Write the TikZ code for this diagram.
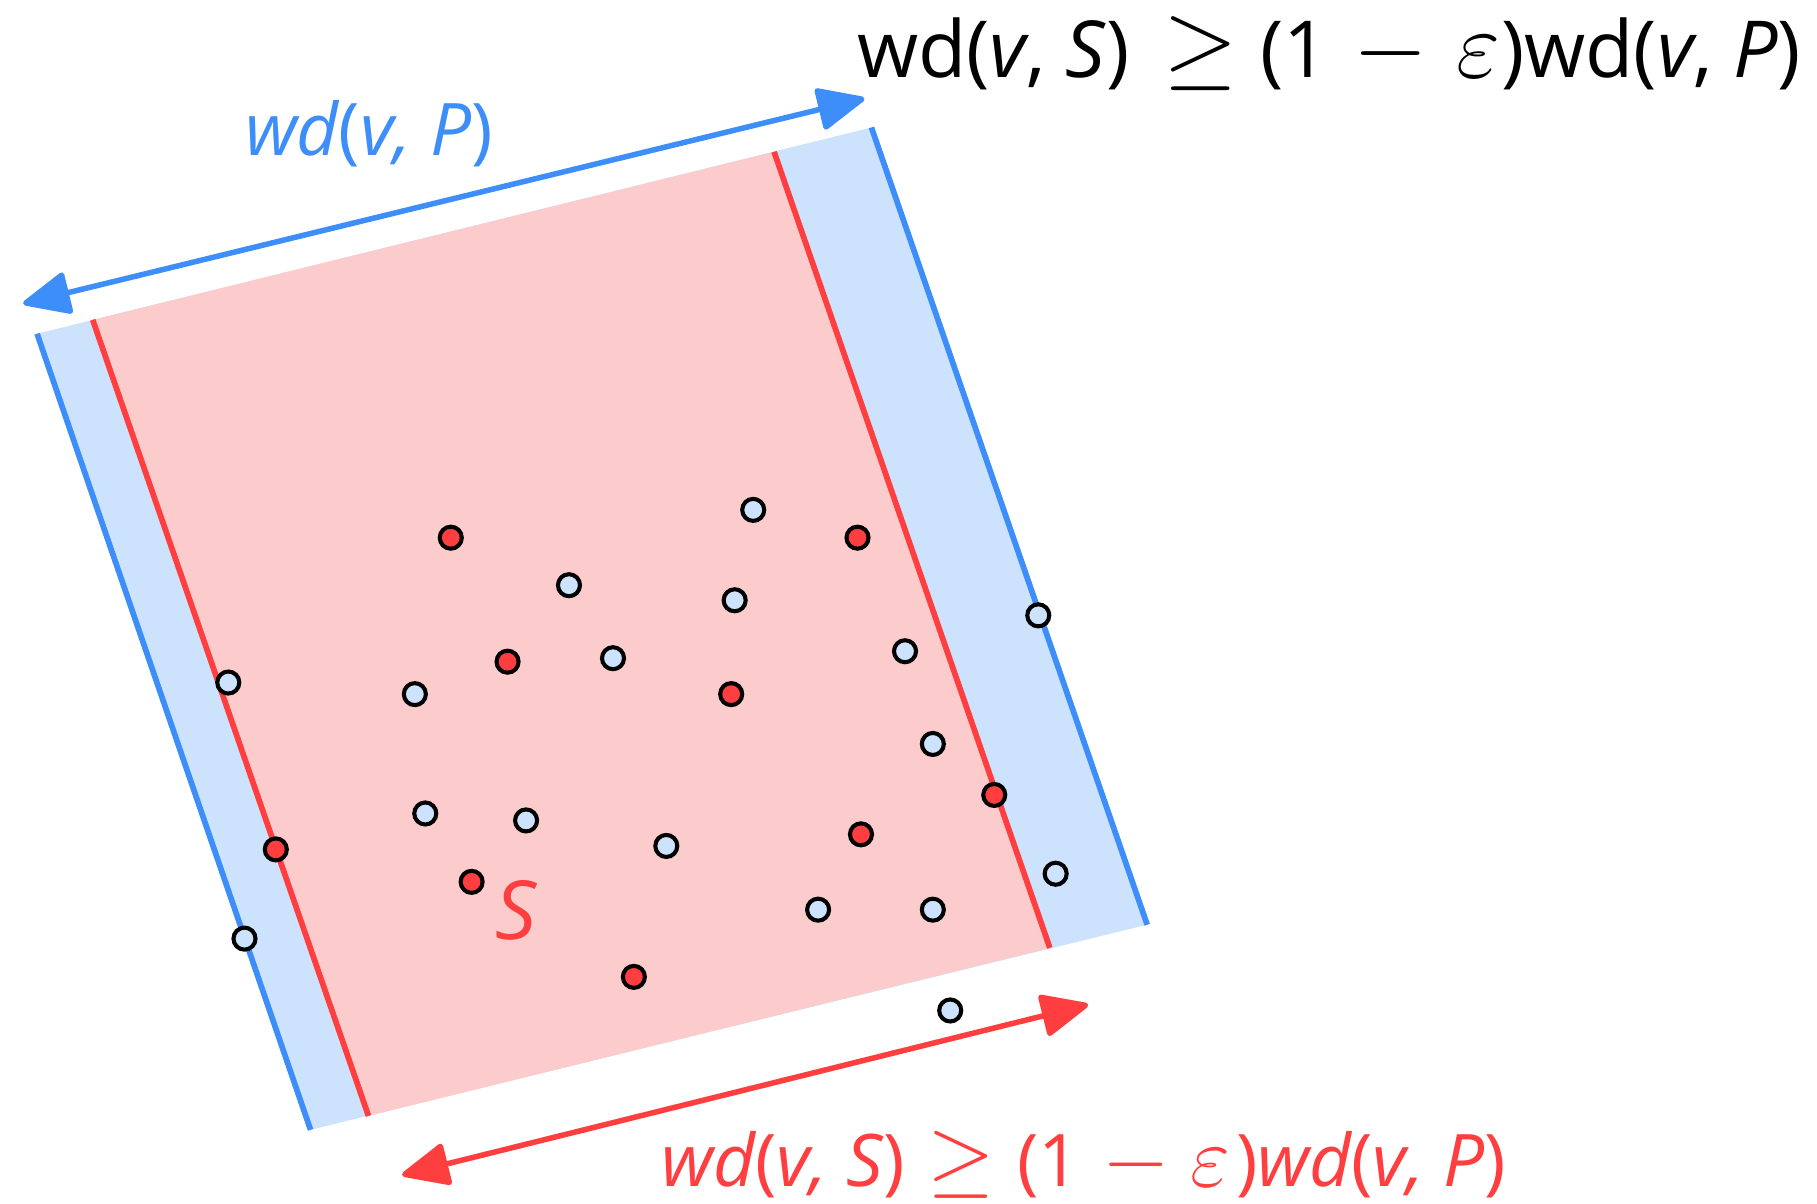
\RequirePackage{fix-cm}
\documentclass[tikz,border=0pt]{standalone}
\usepackage{graphicx}
\usepackage{fontspec}
\setmainfont{Open Sans}
\usetikzlibrary{arrows.meta}
\definecolor{pblue}{RGB}{61,142,248}
\definecolor{pbluefill}{RGB}{204,226,253}
\definecolor{sred}{RGB}{255,62,64}
\definecolor{sredfill}{RGB}{252,204,205}
\newcommand\symsz[2]{{\fontsize{#1}{#1}\selectfont$#2$}}
\newcommand\up[1]{{\upshape #1}}
\newcommand\cbox[1]{\makebox[0pt][c]{#1}}
\newcommand\lbox[1]{\makebox[0pt][l]{#1}}
\tikzset{
  edgeline/.style={line width=1.4pt},
  dotbase/.style={circle, draw=black, line width=1pt, minimum size=0.19cm, inner sep=0pt},
  rdot/.style={dotbase, fill=sred},
  bdot/.style={dotbase, fill=pbluefill},
  dimarrow/.style={line width=1.35pt, {Triangle[length=0.44cm,width=0.38cm,round]}-{Triangle[length=0.44cm,width=0.38cm,round]}},
}
\begin{document}
\begin{tikzpicture}[x=0.01cm,y=-0.01cm]
\useasboundingbox (0,0) rectangle (1568,1039);
% strip corners
\coordinate (P1) at (32,288);
\coordinate (P2) at (752,110);
\coordinate (P3) at (990,798);
\coordinate (P4) at (268,975);
\coordinate (S1) at (80,276);
\coordinate (S2) at (668,131);
\coordinate (S3) at (906,818);
\coordinate (S4) at (318,963);
\fill[pbluefill] (P1) -- (P2) -- (P3) -- (P4) -- cycle;
\fill[sredfill] (S1) -- (S2) -- (S3) -- (S4) -- cycle;
\draw[edgeline, pblue] (P1) -- (P4);
\draw[edgeline, pblue] (P2) -- (P3);
\draw[edgeline, sred] (S1) -- (S4);
\draw[edgeline, sred] (S2) -- (S3);
% arrows
\coordinate (bA) at (20,262);
\coordinate (bB) at (746,85);
\draw[dimarrow, pblue, fill=pblue] (bA) -- (bB);
\coordinate (rA) at (347,1014);
\coordinate (rB) at (939,867);
\draw[dimarrow, sred, fill=sred] (rA) -- (rB);
% red points
\node[rdot] (r1) at (389,464) {};
\node[rdot] (r2) at (740,464) {};
\node[rdot] (r3) at (438,571) {};
\node[rdot] (r4) at (631,599) {};
\node[rdot] (r5) at (858,686) {};
\node[rdot] (r6) at (743,720) {};
\node[rdot] (r7) at (238,733) {};
\node[rdot] (r8) at (407,761) {};
\node[rdot] (r9) at (547,843) {};
% blue points
\node[bdot] (b1) at (650,440) {};
\node[bdot] (b2) at (491,505) {};
\node[bdot] (b3) at (634,518) {};
\node[bdot] (b4) at (896,531) {};
\node[bdot] (b5) at (529,568) {};
\node[bdot] (b6) at (781,562) {};
\node[bdot] (b7) at (197,589) {};
\node[bdot] (b8) at (358,599) {};
\node[bdot] (b9) at (805,642) {};
\node[bdot] (b10) at (367,702) {};
\node[bdot] (b11) at (454,708) {};
\node[bdot] (b12) at (575,730) {};
\node[bdot] (b13) at (911,754) {};
\node[bdot] (b14) at (706,785) {};
\node[bdot] (b15) at (805,785) {};
\node[bdot] (b16) at (211,810) {};
\node[bdot] (b17) at (820,872) {};
% labels
\node[anchor=base west, inner sep=0pt, font=\fontsize{19.3}{22}\selectfont] (toplabel) at (739,66.5)
  {\lbox{wd(\textit{v}, \textit{S})}\hspace{29.6mm}\cbox{\symsz{23.5}{\geq}}\hspace{5.2mm}\lbox{(1}\hspace{11.25mm}\cbox{\symsz{23.5}{-}}\hspace{7.5mm}\cbox{\symsz{23.5}{\varepsilon}}\hspace{2mm})wd(\textit{v}, \textit{P})};
\node[anchor=base, inner sep=0pt, text=pblue, font=\fontsize{17.8}{20}\selectfont\itshape] (plabel) at (318.5,133.8)
  {wd\up{(}v, P\up{)}};
\node[anchor=base, inner sep=0pt, text=sred, font=\fontsize{17.8}{20}\selectfont\itshape] (slabel) at (935,1024)
  {wd\up{(}v, S\up{)}\hspace{5.6pt}\symsz{21.3}{\geq}\hspace{5.4pt}\up{(1}\hspace{5.5pt}\symsz{21.3}{-}\hspace{5pt}\symsz{21.3}{\varepsilon}\hspace{1.5pt}\up{)}wd\up{(}v, P\up{)}};
\node[anchor=base, inner sep=0pt, text=sred, font=\fontsize{20}{22}\selectfont\itshape] (Sname) at (445,811) {S};
\end{tikzpicture}
\end{document}
